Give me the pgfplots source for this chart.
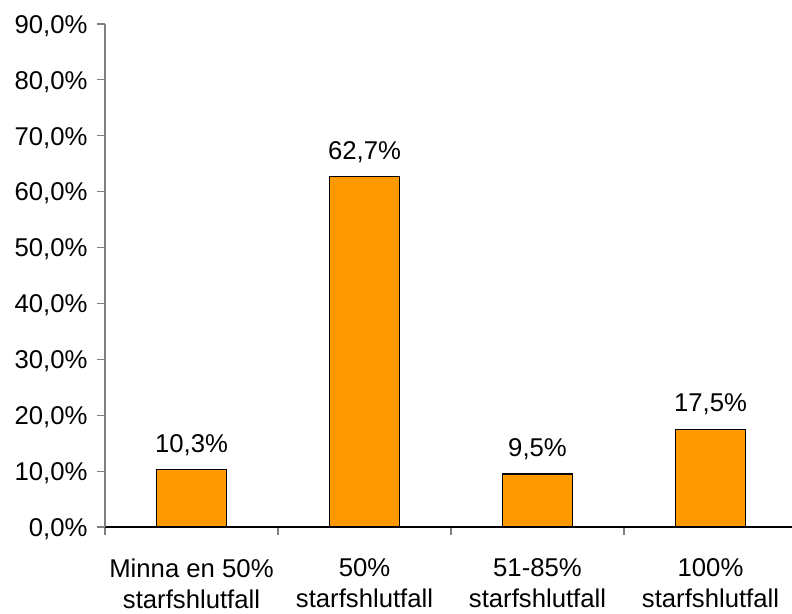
\documentclass[border=0pt]{standalone}
\usepackage{fontspec}
\setmainfont{Liberation Sans}
\usepackage{pgfplots}
\pgfplotsset{compat=1.18}
\definecolor{barorange}{HTML}{FF9900}
\definecolor{axgray}{HTML}{808080}
\begin{document}
\begin{tikzpicture}[font=\fontsize{25.8}{31}\selectfont]
\path[use as bounding box] (-105bp,-87bp) rectangle (687bp,527bp);
\begin{axis}[
  at={(0,0)}, anchor=south west,
  scale only axis, width=692bp, height=503bp,
  xmin=-0.5, xmax=3.5, ymin=0, ymax=90,
  axis x line*=bottom, axis y line*=left,
  x axis line style={black, line width=1.2bp},
  y axis line style={axgray, line width=1.2bp},
  tick align=outside, major tick length=8bp,
  ytick={0,10,...,90},
  yticklabels={{0,0\%},{10,0\%},{20,0\%},{30,0\%},{40,0\%},{50,0\%},{60,0\%},{70,0\%},{80,0\%},{90,0\%}},
  ytick style={axgray, line width=1.2bp},
  xtick={-0.5,0.5,1.5,2.5,3.5},
  x tick label as interval,
  xticklabels={{Minna en 50\%\\starfshlutfall},{50\%\\starfshlutfall},{51-85\%\\starfshlutfall},{100\%\\starfshlutfall}},
  xtick style={axgray, line width=1.2bp},
  xticklabel style={align=center, text depth=0pt, yshift=-20bp},
  yticklabel style={xshift=-6bp, yshift=-2bp},
  ybar, bar width=70bp,
  nodes near coords,
  point meta=explicit symbolic,
  every node near coord/.append style={font=\fontsize{25.8}{31}\selectfont, anchor=south, yshift=10bp},
  clip=false,
]
\addplot[fill=barorange, draw=black, line width=1.2bp] coordinates {
  (0,10.3) [10,3\%]
  (1,62.7) [62,7\%]
  (2,9.5) [9,5\%]
  (3,17.5) [17,5\%]
};
\end{axis}
\end{tikzpicture}
\end{document}
